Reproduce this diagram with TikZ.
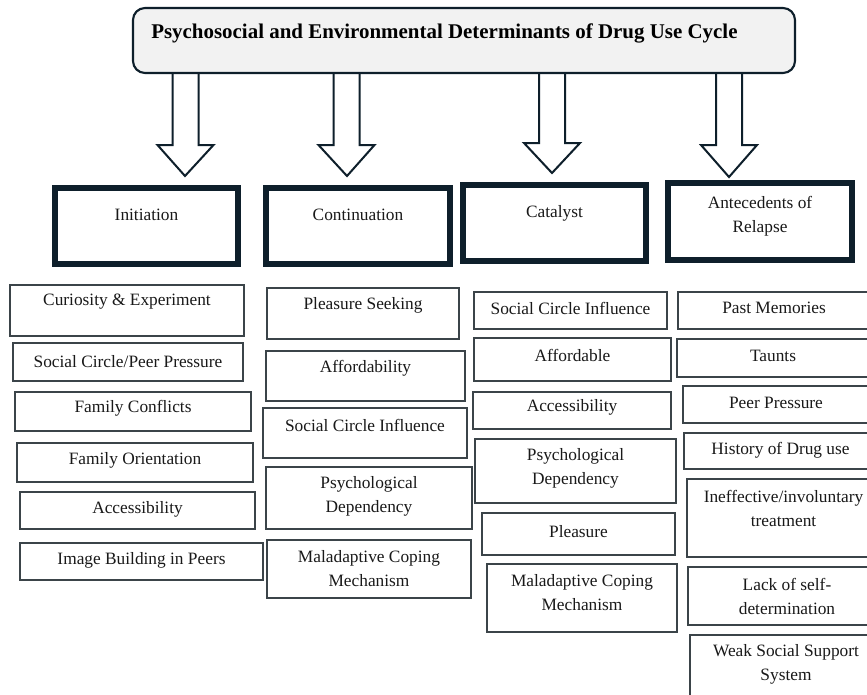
\documentclass[tikz,border=0pt]{standalone}
\usepackage{fontspec}
\setmainfont{Liberation Serif}
\usetikzlibrary{fit}

\definecolor{ink}{HTML}{0E1F2B}
\definecolor{edge}{HTML}{3B4449}
\definecolor{titlefill}{HTML}{F2F2F2}

\tikzset{
  titlebox/.style={draw=ink, line width=1.6pt, rounded corners=9pt, fill=titlefill, inner sep=0pt},
  headbox/.style={draw=ink, line width=4.5pt, fill=white, inner sep=0pt},
  itembox/.style={draw=edge, line width=1.1pt, fill=white, inner sep=0pt},
  txt/.style={font=\fontsize{13}{18}\selectfont, align=center, inner sep=0pt, text=black!90},
  blockarrow/.style={draw=ink, line width=1.5pt, fill=white, line join=miter},
}

% box from corner (#2,#3) to corner (#4,#5), label centred at height #6
\newcommand\ibox[7]{%
  \node[itembox, fit={(#2,#3)(#4,#5)}] (#1) {};
  \pgfmathsetmacro\cx{(#2+#4)/2}
  \node[txt] (#1-t) at (\cx,#6) {#7};
}
\newcommand\stagebox[7]{%
  \node[headbox, fit={(#2,#3)(#4,#5)}] (#1) {};
  \pgfmathsetmacro\cx{(#2+#4)/2}
  \node[txt] (#1-t) at (\cx,#6) {#7};
}
% hollow arrow: shaft centre #1, head base #2, tip (#3,#4)
\newcommand\stagearrow[4]{%
  \draw[blockarrow] (#1-13,68) -- (#1-13,#2) -- (#1-28,#2) -- (#3,#4)
    -- (#1+28,#2) -- (#1+13,#2) -- (#1+13,68);
}

\begin{document}
\begin{tikzpicture}[x=0.75pt, y=-0.75pt]
  \path[use as bounding box, clip] (0,0) rectangle (867,694);
  \fill[white] (0,0) rectangle (867,694);

  % arrows from the title down to the four stages
  \stagearrow{185.5}{145}{185}{176}
  \stagearrow{346.5}{145}{347}{176}
  \stagearrow{552}{143}{552}{173}
  \stagearrow{729}{145}{729}{177}

  % title
  \node[titlebox, fit={(133,8)(795,73)}] (title) {};
  \node[font=\fontsize{15.7}{18}\selectfont\bfseries, anchor=base west, inner sep=0pt] (title-t)
    at (151,38) {Psychosocial and Environmental Determinants of Drug Use Cycle};

  % stage headings
  \stagebox{init}{55}{188}{238}{264}{215}{Initiation}
  \stagebox{cont}{266}{188}{450}{264}{215}{Continuation}
  \stagebox{cata}{463}{185}{646}{261}{213}{Catalyst}
  \stagebox{ante}{668}{183}{852}{260}{216}{Antecedents of\\Relapse}

  % Initiation
  \ibox{c1a}{10}{285}{244}{336}{302}{Curiosity \& Experiment}
  \ibox{c1b}{13}{343}{243}{381}{362}{Social Circle/Peer Pressure}
  \ibox{c1c}{15}{392}{251}{431}{408}{Family Conflicts}
  \ibox{c1d}{17}{443}{253}{482}{460}{Family Orientation}
  \ibox{c1e}{20}{492}{255}{529}{509}{Accessibility}
  \ibox{c1f}{20}{543}{263}{580}{560}{Image Building in Peers}

  % Continuation
  \ibox{c2a}{267}{288}{459}{339}{305}{Pleasure Seeking}
  \ibox{c2b}{266}{351}{465}{401}{368}{Affordability}
  \ibox{c2c}{263}{408}{467}{458}{425}{Social Circle Influence}
  \ibox{c2d}{266}{467}{472}{529}{496}{Psychological\\Dependency}
  \ibox{c2e}{267}{540}{471}{598}{568.5}{Maladaptive Coping\\Mechanism}

  % Catalyst
  \ibox{c3a}{474}{292}{667}{329}{308}{Social Circle Influence}
  \ibox{c3b}{474}{338}{671}{381}{355}{Affordable}
  \ibox{c3c}{473}{392}{671}{429}{407}{Accessibility}
  \ibox{c3d}{475}{439}{676}{503}{468}{Psychological\\Dependency}
  \ibox{c3e}{482}{513}{675}{555}{532}{Pleasure}
  \ibox{c3f}{487}{564}{677}{632}{592.5}{Maladaptive Coping\\Mechanism}

  % Antecedents of Relapse
  \ibox{c4a}{678}{292}{870}{329}{308}{Past Memories}
  \ibox{c4b}{677}{339}{869}{377}{356}{Taunts}
  \ibox{c4c}{683}{386}{869}{423}{403}{Peer Pressure}
  \ibox{c4d}{684}{433}{877}{469}{450}{History of Drug use}
  \ibox{c4e}{687}{479}{880}{557}{508.5}{Ineffective/involuntary\\treatment}
  \ibox{c4f}{688}{567}{886}{625}{596}{Lack of self-\\determination}
  \ibox{c4g}{690}{635}{882}{698}{664}{Weak Social Support\\System}
\end{tikzpicture}
\end{document}
